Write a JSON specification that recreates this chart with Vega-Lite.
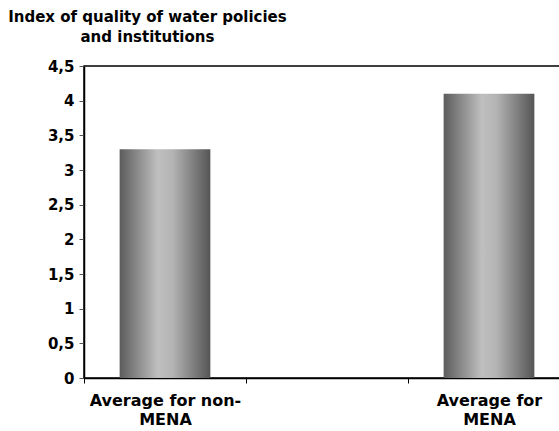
{
  "$schema": "https://vega.github.io/schema/vega-lite/v6.json",
  "autosize": "none",
  "padding": {"left": 84, "top": 66, "right": 0, "bottom": 53},
  "width": 486,
  "height": 312,
  "background": "white",
  "title": {
    "text": ["Index of quality of water policies", "and institutions"],
    "anchor": "start",
    "align": "center",
    "dx": 100,
    "offset": 14,
    "font": "DejaVu Sans",
    "fontSize": 15,
    "fontWeight": "bold",
    "color": "#000000",
    "lineHeight": 20
  },
  "config": {
    "view": {"stroke": "#000000", "strokeWidth": 1.5},
    "axis": {"grid": false}
  },
  "data": {
    "values": [
      {"group": "Average for non-MENA", "index": 3.3},
      {"group": "Average for MENA", "index": 4.1}
    ]
  },
  "mark": {
    "type": "bar",
    "width": {"band": 0.56},
    "color": {
      "gradient": "linear",
      "x1": 0, "y1": 0, "x2": 1, "y2": 0,
      "stops": [
        {"offset": 0, "color": "#5c5c5c"},
        {"offset": 0.42, "color": "#bfbfbf"},
        {"offset": 0.58, "color": "#b4b4b4"},
        {"offset": 1, "color": "#555555"}
      ]
    }
  },
  "encoding": {
    "x": {
      "field": "group",
      "type": "nominal",
      "sort": null,
      "scale": {
        "domain": ["Average for non-MENA", "", "Average for MENA"],
        "paddingInner": 0,
        "paddingOuter": 0
      },
      "axis": {
        "title": null,
        "labelAngle": 0,
        "tickBand": "extent",
        "domainColor": "#000000",
        "domainWidth": 1.5,
        "tickColor": "#000000",
        "tickSize": 5,
        "labelFont": "DejaVu Sans",
        "labelFontSize": 16,
        "labelFontWeight": "bold",
        "labelColor": "#000000",
        "labelPadding": 9,
        "labelLineHeight": 19,
        "labelExpr": "datum.value == 'Average for non-MENA' ? ['Average for non-', 'MENA'] : (datum.value == 'Average for MENA' ? ['Average for', 'MENA'] : '')"
      }
    },
    "y": {
      "field": "index",
      "type": "quantitative",
      "scale": {"domain": [0, 4.5], "nice": false},
      "axis": {
        "title": null,
        "values": [0, 0.5, 1, 1.5, 2, 2.5, 3, 3.5, 4, 4.5],
        "format": "~g",
        "labelExpr": "replace(datum.label, '.', ',')",
        "domainColor": "#000000",
        "domainWidth": 1.5,
        "tickColor": "#555555",
        "tickSize": 5,
        "labelPadding": 5,
        "labelFont": "DejaVu Sans",
        "labelFontSize": 15,
        "labelFontWeight": "bold",
        "labelColor": "#000000"
      }
    }
  }
}
